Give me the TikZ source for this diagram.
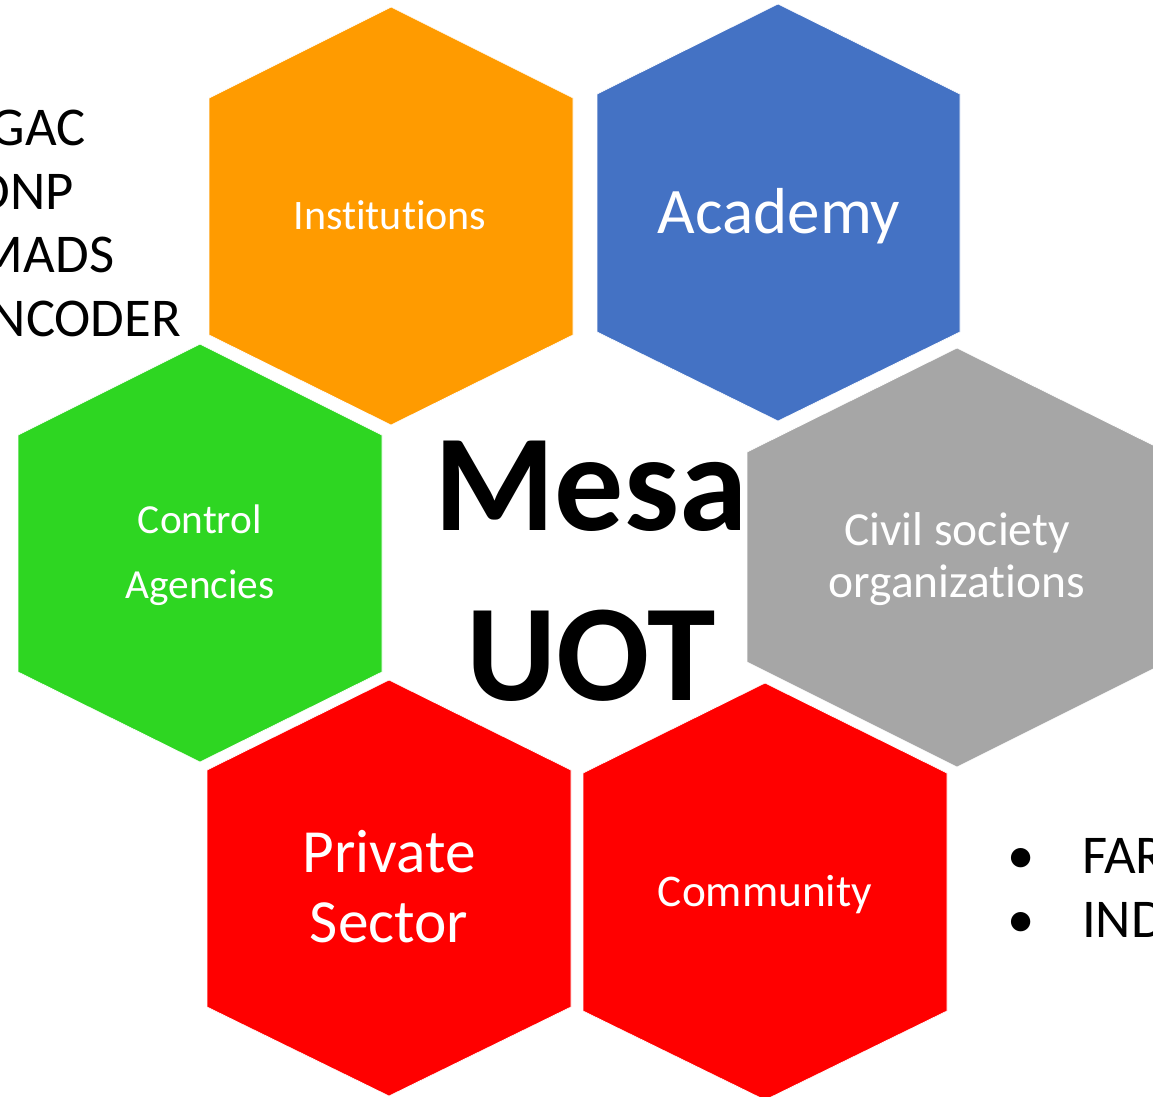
\documentclass[tikz,border=0pt]{standalone}
\usepackage{fontspec}
\setmainfont{Carlito}[Ligatures={NoCommon}]
\definecolor{InstOrange}{RGB}{255,155,0}
\definecolor{AcadBlue}{RGB}{68,114,196}
\definecolor{CtrlGreen}{RGB}{46,214,34}
\definecolor{CivilGrey}{RGB}{166,166,166}
\definecolor{SectorRed}{RGB}{255,0,0}

\begin{document}
\begin{tikzpicture}[x=0.75pt,y=-0.75pt]
  \tikzset{HexStyle/.style = {
    draw          = white,
    line width    = 0.5pt
    }
  }
  \tikzset{HexLabelStyle/.style = {
    text          = white,
    align         = center,
    anchor        = base,
    inner sep     = 0pt,
    outer sep     = 0pt
    }
  }
  \tikzset{ListStyle/.style = {
    text          = black,
    align         = left,
    anchor        = base west,
    inner sep     = 0pt,
    outer sep     = 0pt,
    font          = \fontsize{41}{47.6}\selectfont
    }
  }

  \useasboundingbox (0,0) rectangle (1153,1096);
  \clip (0,0) rectangle (1153,1096);

  % the six cells
  \filldraw[HexStyle, fill=InstOrange] (391,7) -- (573,98) -- (573,335) -- (391,425) -- (209,335) -- (209,98) -- cycle;
  \filldraw[HexStyle, fill=AcadBlue] (778,4) -- (960,94) -- (960,332) -- (778,421) -- (597,332) -- (597,94) -- cycle;
  \filldraw[HexStyle, fill=CtrlGreen] (200,344) -- (382,435) -- (382,672) -- (200,762) -- (18,672) -- (18,435) -- cycle;
  \filldraw[HexStyle, fill=CivilGrey] (957,348) -- (1167,452) -- (1167,662) -- (957,767) -- (747,662) -- (747,452) -- cycle;
  \filldraw[HexStyle, fill=SectorRed] (389,680) -- (571,770) -- (571,1007) -- (389,1096) -- (207,1007) -- (207,770) -- cycle;
  \filldraw[HexStyle, fill=SectorRed] (765,683) -- (947,773) -- (947,1011) -- (765,1100) -- (583,1011) -- (583,773) -- cycle;

  % labels (base = last line)
  \node[HexLabelStyle, font=\fontsize{31.5}{38}\selectfont] (Inst) at (390,229) {Institutions};
  \node[HexLabelStyle, font=\fontsize{48.75}{58}\selectfont] (Acad) at (779,233) {Academy};
  \node[HexLabelStyle, font=\fontsize{31}{48.75}\selectfont] (Ctrl) at (200,598) {Control\\Agencies};
  \node[HexLabelStyle, font=\fontsize{35.6}{39}\selectfont] (Civil) at (957,597) {Civil society\\organizations};
  \node[HexLabelStyle, font=\fontsize{46}{52.5}\selectfont] (Priv) at (389,942) {Private\\Sector};
  \node[HexLabelStyle, font=\fontsize{34}{40}\selectfont] (Comm) at (765,906) {Community};

  \node[HexLabelStyle, text=black, font=\fontsize{103.5}{127.5}\selectfont\bfseries] (Mesa) at (591,700) {Mesa\\UOT};

  \node[ListStyle] (InstList) at (-23,336) {IGAC\\DNP\\MADS\\INCODER};
  \node[ListStyle] (BulletA) at (1007,873) {•};
  \node[ListStyle] (BulletB) at (1007,937) {•};
  \node[ListStyle] (Far) at (1082,873) {FAR};
  \node[ListStyle] (Ind) at (1082,937) {IND};

\end{tikzpicture}
\end{document}
